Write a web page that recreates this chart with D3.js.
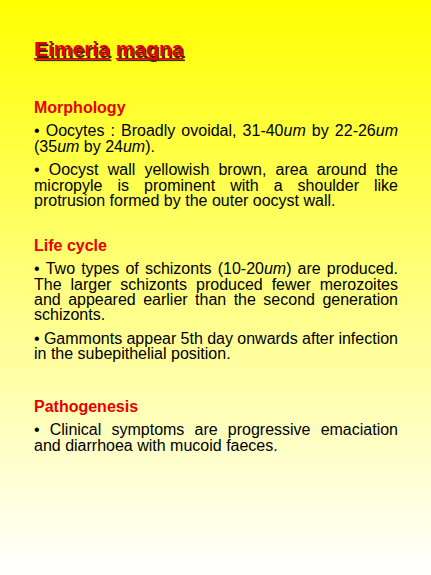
<!DOCTYPE html>
<html>
<head>
  <meta charset="utf-8">
  <title>Eimeria magna</title>
  <script src="https://d3js.org/d3.v7.min.js"></script>
  <style>
    body { margin: 0; }
    svg { display: block; }
  </style>
</head>
<body>
  <div id="slide"></div>
  <script>
    // slide text, one array per block. *um* marks italic parts
    var titleWords = ["Eimeria", "magna"];
    var headings = ["Morphology", "Life cycle", "Pathogenesis"];

    var morphology = [
      ["• Oocytes : Broadly ovoidal, 31-40*um* by 22-26*um*",
       "(35*um* by 24*um*)."],
      ["• Oocyst wall yellowish brown, area around the",
       "micropyle is prominent with a shoulder like",
       "protrusion formed by the outer oocyst wall."]
    ];
    var lifeCycle = [
      ["• Two types of schizonts (10-20*um*) are produced.",
       "The larger schizonts produced fewer merozoites",
       "and appeared earlier than the second generation",
       "schizonts."],
      ["• Gammonts appear 5th day onwards after infection",
       "in the subepithelial position."]
    ];
    var pathogenesis = [
      ["• Clinical symptoms are progressive emaciation",
       "and diarrhoea with mucoid faeces."]
    ];
    var sections = [morphology, lifeCycle, pathogenesis];

    // layout
    var width = 431, height = 575;
    var left = 34, right = 398;
    var font = "'Liberation Sans', Arial, sans-serif";
    var bodySize = 16, lineH = 15.3, paraGap = 8.3, headToText = 23.7;
    var headingY = [112.7, 250.7, 411.7];
    var red = "#e60000";

    var svg = d3.select("#slide")
      .append("svg")
      .attr("width", width)
      .attr("height", height);

    // background gradient, yellow to white
    var grad = svg.append("defs").append("linearGradient")
      .attr("id", "bg")
      .attr("x1", 0).attr("y1", 0).attr("x2", 0).attr("y2", 1);
    grad.append("stop").attr("offset", "0%").attr("stop-color", "#ffff00");
    grad.append("stop").attr("offset", "100%").attr("stop-color", "#ffffff");
    svg.append("rect")
      .attr("width", width)
      .attr("height", height)
      .attr("fill", "url(#bg)");

    // title with shadow and underline under each word
    var titleSize = 21, titleY = 56;
    var titleG = svg.append("g");
    function drawTitle(dx, dy, color) {
      var x = left;
      titleWords.forEach(function (w) {
        var t = titleG.append("text")
          .attr("x", x + dx)
          .attr("y", titleY + dy)
          .attr("font-family", font)
          .attr("font-weight", "bold")
          .attr("font-size", titleSize)
          .attr("fill", color)
          .text(w);
        var tw = t.node().getComputedTextLength();
        titleG.append("rect")
          .attr("x", x + dx)
          .attr("y", titleY + 2 + dy)
          .attr("width", tw)
          .attr("height", 1.6)
          .attr("fill", color);
        x += tw + titleSize * 0.278;
      });
    }
    drawTitle(1.5, 1.5, "#3b2a1a");
    drawTitle(0, 0, red);

    // split "abc*um*" into parts
    function parts(word) {
      return word.split("*").map(function (s, i) {
        return { text: s, italic: i % 2 === 1 };
      }).filter(function (p) { return p.text.length > 0; });
    }

    // draws one line, justified unless it is the last of its paragraph
    function drawLine(g, line, y, justify) {
      var words = line.split(" ");
      var nodes = words.map(function (w) {
        var t = g.append("text")
          .attr("y", y)
          .attr("font-family", font)
          .attr("font-size", bodySize)
          .attr("fill", "#000");
        t.selectAll("tspan")
          .data(parts(w))
          .enter()
          .append("tspan")
          .attr("font-style", function (p) { return p.italic ? "italic" : "normal"; })
          .text(function (p) { return p.text; });
        return t;
      });
      var widths = nodes.map(function (t) { return t.node().getComputedTextLength(); });
      var total = d3.sum(widths);
      var gap = justify && words.length > 1
        ? (right - left - total) / (words.length - 1)
        : bodySize * 0.278;
      var x = left;
      nodes.forEach(function (t, i) {
        t.attr("x", x);
        x += widths[i] + gap;
      });
    }

    sections.forEach(function (paras, s) {
      var g = svg.append("g");
      g.append("text")
        .attr("x", left)
        .attr("y", headingY[s])
        .attr("font-family", font)
        .attr("font-weight", "bold")
        .attr("font-size", bodySize)
        .attr("fill", red)
        .text(headings[s]);

      var y = headingY[s] + headToText;
      paras.forEach(function (lines) {
        lines.forEach(function (line, i) {
          drawLine(g, line, y, i < lines.length - 1);
          y += lineH;
        });
        y += paraGap;
      });
    });
  </script>
</body>
</html>
